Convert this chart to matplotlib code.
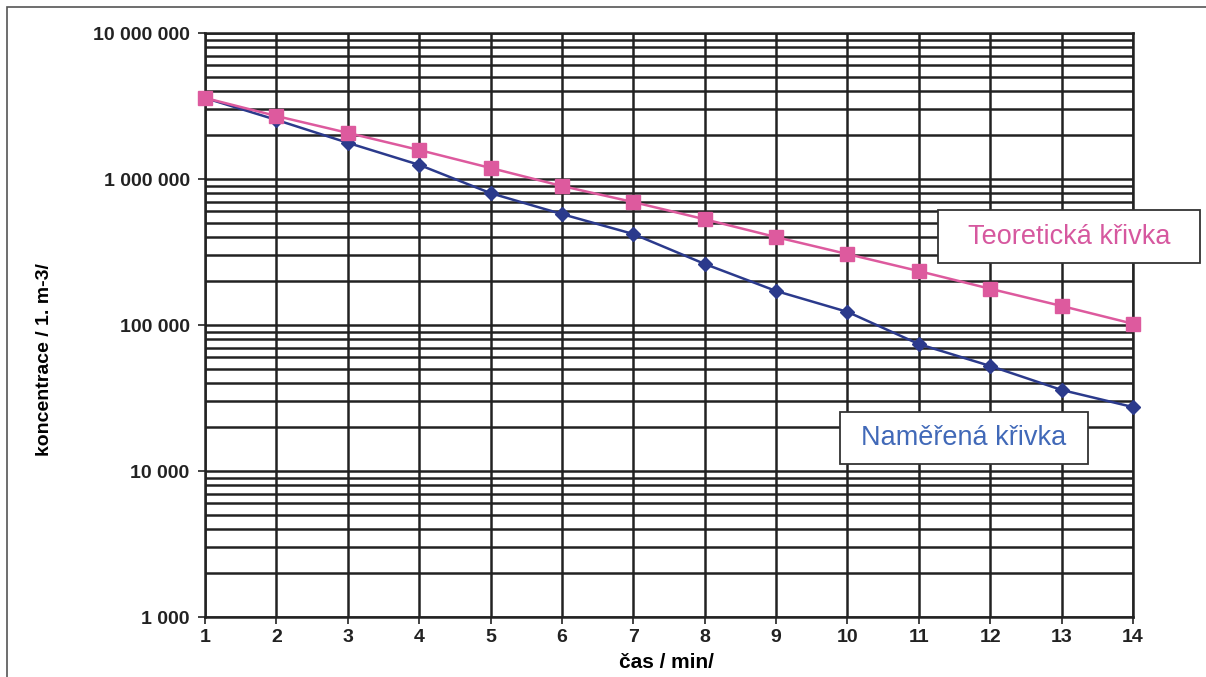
import matplotlib
matplotlib.use("Agg")
import matplotlib.pyplot as plt
from matplotlib.ticker import FixedLocator, LogLocator, FuncFormatter, NullFormatter

plt.rcParams['font.family'] = ['Liberation Sans', 'DejaVu Sans']

cas = [1, 2, 3, 4, 5, 6, 7, 8, 9, 10, 11, 12, 13, 14]
teoreticka = [3.59e6, 2.70e6, 2.07e6, 1.58e6, 1.19e6, 8.95e5, 6.95e5,
              5.30e5, 4.00e5, 3.06e5, 2.34e5, 1.77e5, 1.35e5, 1.02e5]
namerena = [3.59e6, 2.54e6, 1.77e6, 1.25e6, 8.0e5, 5.75e5, 4.2e5,
            2.62e5, 1.71e5, 1.23e5, 7.4e4, 5.24e4, 3.59e4, 2.74e4]
y_ticks = [1e3, 1e4, 1e5, 1e6, 1e7]

W, H = 1206, 677
fig = plt.figure(figsize=(W / 100, H / 100), dpi=100)
ax = fig.add_axes([205/W, 1 - 617/H, 928/W, 584/H])

ax.set_yscale('log')
ax.set_xlim(1, 14)
ax.set_ylim(1e3, 1e7)

ax.xaxis.set_major_locator(FixedLocator(cas))
ax.yaxis.set_major_locator(FixedLocator(y_ticks))
ax.yaxis.set_minor_locator(LogLocator(base=10, subs=range(2, 10)))
ax.yaxis.set_minor_formatter(NullFormatter())
ax.yaxis.set_major_formatter(FuncFormatter(lambda v, p: f"{int(round(v)):,}".replace(",", " ")))

ax.grid(True, which='major', color='#222222', lw=1.8)
ax.grid(True, which='minor', axis='y', color='#222222', lw=1.8)
ax.tick_params(axis='y', which='minor', length=0)
ax.tick_params(axis='both', which='major', length=5, width=1.2, color='#222222',
               labelsize=14)
ax.tick_params(axis='y', pad=6)
for lab in ax.get_xticklabels() + ax.get_yticklabels():
    lab.set_fontweight('bold')
    lab.set_color('#222222')
for s in ax.spines.values():
    s.set_color('#222222')
    s.set_linewidth(1.8)

ax.plot(cas, namerena, color='#2B3A8C', lw=1.8, marker='D', ms=7,
        markerfacecolor='#2B3A8C', markeredgecolor='#2B3A8C', zorder=3, clip_on=False)
ax.plot(cas, teoreticka, color='#DD5A9E', lw=1.8, marker='s', ms=10,
        markerfacecolor='#DD5A9E', markeredgecolor='#DD5A9E', zorder=4, clip_on=False)

ax.set_xlabel('čas / min/', fontsize=15, fontweight='bold', va='center')
ax.xaxis.set_label_coords((666 - 205) / 928, (617 - 662) / 584)
ax.set_ylabel('koncentrace / 1. m-3/', fontsize=14, fontweight='bold', va='center')
ax.yaxis.set_label_coords((45 - 205) / 928, (617 - 360) / 584)

# label boxes
for (x0, y0, x1, y1), txt, col in [((938, 210, 1200, 263), 'Teoretická křivka', '#D6589F'),
                                   ((840, 412, 1088, 464), 'Naměřená křivka', '#4169B8')]:
    fig.patches.append(plt.Rectangle((x0 / W, 1 - y1 / H), (x1 - x0) / W, (y1 - y0) / H,
                                     transform=fig.transFigure, fc='white',
                                     ec='#333333', lw=1.3, zorder=5))
    fig.text((x0 + x1) / 2 / W, 1 - (y0 + y1) / 2 / H, txt, fontsize=19.5, color=col,
             ha='center', va='center', zorder=6)

# outer frame of the chart
fig.patches.append(plt.Rectangle((7/W, -0.01), 1.02, 1 - 7/H + 0.01,
                                 transform=fig.transFigure, fill=False,
                                 ec='#555555', lw=1.2))

fig.savefig('out.png', dpi=100)
